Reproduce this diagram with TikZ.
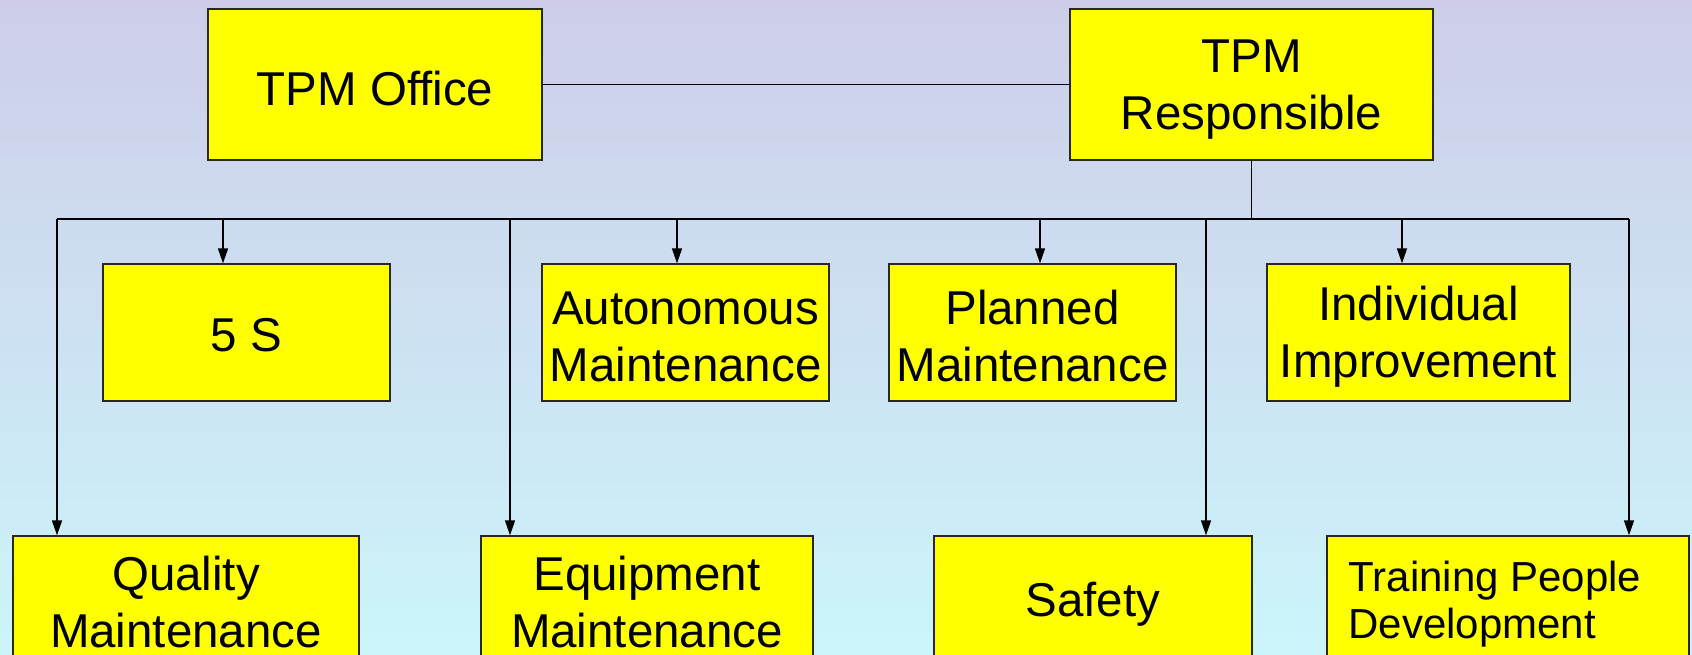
\documentclass[tikz,border=0pt]{standalone}
\usepackage{fontspec}
\setmainfont{Liberation Sans}
\usetikzlibrary{arrows.meta}
\definecolor{bgtop}{RGB}{205,205,234}
\definecolor{bgbot}{RGB}{204,245,250}
\definecolor{boxfill}{RGB}{255,255,0}
\definecolor{boxline}{RGB}{40,40,30}
\begin{document}
\begin{tikzpicture}[x=1pt,y=-1pt,
  box/.style={draw=boxline,line width=1.3pt,fill=boxfill,inner sep=0pt,anchor=center},
  toprow/.style={box,minimum height=151pt},
  midrow/.style={box,minimum height=137pt},
  botrow/.style={box,minimum height=128pt},
  txt/.style={inner sep=0pt,anchor=center,align=center,font=\fontsize{47.5}{57}\selectfont},
  smalltxt/.style={inner sep=0pt,anchor=west,align=left,font=\fontsize{42}{47}\selectfont},
  conn/.style={line width=1.6pt,black},
  arr/.style={line width=1.4pt,black,-{Triangle[length=15pt,width=10pt]}}]
\useasboundingbox (0,0) rectangle (1692,655);
\shade[top color=bgtop,bottom color=bgbot] (0,0) rectangle (1692,655);
\clip (0,0) rectangle (1692,655);

% top row
\node[toprow,minimum width=334pt] (office) at (375,84.5) {};
\node[toprow,minimum width=363pt] (resp) at (1251.5,84.5) {};
\node[txt] (officet) at ([yshift=-4pt]office.center) {TPM Office};
\node[txt] (respt) at ([yshift=-5pt]resp.center) {TPM\\Responsible};

% middle row
\node[midrow,minimum width=287pt] (fives) at (246.5,332.5) {};
\node[midrow,minimum width=287pt] (auton) at (685.5,332.5) {};
\node[midrow,minimum width=287pt] (plan) at (1032.5,332.5) {};
\node[midrow,minimum width=303pt] (indiv) at (1418.5,332.5) {};
\node[txt] (fivest) at ([yshift=-3pt]fives.center) {5 S};
\node[txt] (autont) at ([yshift=-4pt]auton.center) {Autonomous\\Maintenance};
\node[txt] (plant) at ([yshift=-4pt]plan.center) {Planned\hspace{0.28em}\\Maintenance};
\node[txt] (indivt) at ([yshift=-4pt]indiv.center) {Individual\hspace{0.28em}\\Improvement};

% bottom row
\node[botrow,minimum width=346pt] (qual) at (186,600) {};
\node[botrow,minimum width=332pt] (equip) at (647,600) {};
\node[botrow,minimum width=318pt] (safe) at (1093,600) {};
\node[botrow,minimum width=362pt] (train) at (1508,600) {};
\node[txt] (qualt) at ([yshift=-2pt]qual.center) {Quality\\Maintenance};
\node[txt] (equipt) at ([yshift=-2pt]equip.center) {Equipment\\Maintenance};
\node[txt] (safet) at ([yshift=-4pt]safe.center) {Safety};
\node[smalltxt] (traint) at ([xshift=22pt,yshift=-4pt]train.west) {Training People\\Development};

% bus coordinates
\coordinate (busL) at (57,219);
\coordinate (busR) at (1629,219);
\coordinate (b1) at (223,219);
\coordinate (b2) at (510,219);
\coordinate (b3) at (677,219);
\coordinate (b4) at (1040,219);
\coordinate (b5) at (1206,219);
\coordinate (b6) at (1402,219);

% connectors
\draw[conn] (office.east) -- (resp.west);
\draw[conn] (resp.south) -- (resp.south |- busL);
\draw[conn] (busL) -- (busR);

\draw[arr] (b1) -- (b1 |- fives.north);
\draw[arr] (b3) -- (b3 |- auton.north);
\draw[arr] (b4) -- (b4 |- plan.north);
\draw[arr] (b6) -- (b6 |- indiv.north);

\draw[arr] (busL) -- (busL |- qual.north);
\draw[arr] (b2) -- (b2 |- equip.north);
\draw[arr] (b5) -- (b5 |- safe.north);
\draw[arr] (busR) -- (busR |- train.north);
\end{tikzpicture}
\end{document}
